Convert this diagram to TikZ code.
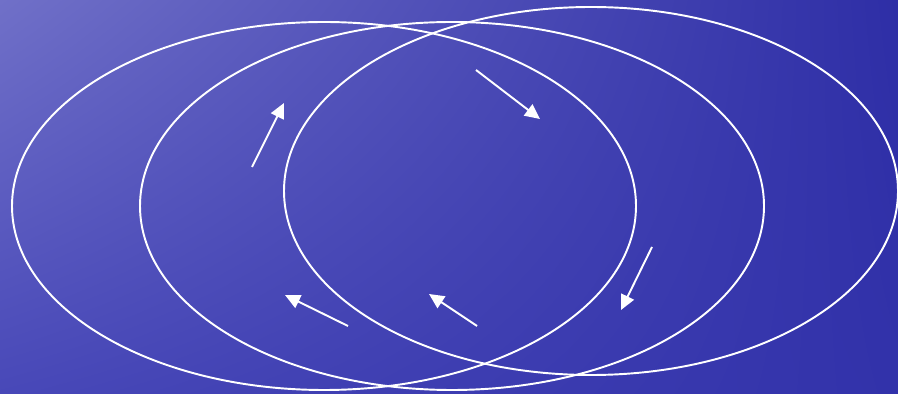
\documentclass[tikz,border=0pt]{standalone}
\usetikzlibrary{arrows.meta,shadings}
\definecolor{SeaLight}{RGB}{112,112,200}
\definecolor{SeaMid}{RGB}{72,72,184}
\definecolor{SeaDark}{RGB}{46,46,166}
\definecolor{SeaDeep}{RGB}{50,50,170}

\begin{document}
\begin{tikzpicture}[x=0.02cm,y=-0.02cm,
    orbit/.style={draw=white,line width=1.1pt},
    flow/.style={-{Triangle[width=0.28cm,length=0.3cm]},white,line width=1.1pt}
  ]
  % sea background
  \shade[upper left=SeaLight,upper right=SeaDark,lower left=SeaMid,lower right=SeaDeep]
    (0,0) rectangle (898,394);
  \useasboundingbox (0,0) rectangle (898,394);
  % three rings
  \draw[orbit] (324,206) ellipse [x radius=312, y radius=184];
  \draw[orbit] (452,206) ellipse [x radius=312, y radius=184];
  \draw[orbit] (591,191) ellipse [x radius=307, y radius=184];
  % arrows
  \coordinate (a1) at (252,167); \coordinate (b1) at (284,103);
  \coordinate (a2) at (476,70);  \coordinate (b2) at (540,119);
  \coordinate (a3) at (652,247); \coordinate (b3) at (621,310);
  \coordinate (a4) at (348,326); \coordinate (b4) at (285,295);
  \coordinate (a5) at (477,326); \coordinate (b5) at (429,294);
  \foreach \i in {1,...,5}
    \draw[flow] (a\i) -- (b\i);
\end{tikzpicture}
\end{document}
